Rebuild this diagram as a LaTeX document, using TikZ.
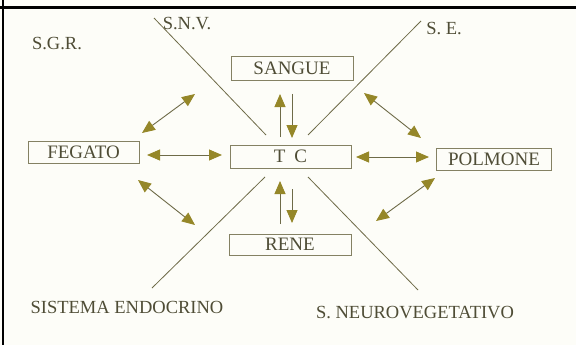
\documentclass[tikz,border=0pt]{standalone}
\usepackage{fontspec}
\setmainfont{Liberation Serif}
\usetikzlibrary{arrows.meta}
\definecolor{ink}{HTML}{4F4D36}
\definecolor{rule}{HTML}{6E6B48}
\definecolor{tip}{HTML}{958729}
\definecolor{paper}{HTML}{FDFDF8}
\tikzset{
  organ/.style={draw=rule!85, line width=0.8pt, inner sep=0pt, text=ink,
    font=\fontsize{19}{22}\selectfont},
  label/.style={text=ink, inner sep=0pt, font=\fontsize{18.5}{22}\selectfont},
  axis/.style={draw=rule, line width=0.8pt},
  link/.style={draw=rule, line width=0.9pt,
    {Triangle[length=13pt,width=11pt,color=tip]}-{Triangle[length=13pt,width=11pt,color=tip]}},
  oneway/.style={draw=rule, line width=0.9pt, -{Triangle[length=13pt,width=11pt,color=tip]}}
}
\begin{document}
\begin{tikzpicture}[x=1pt,y=-1pt]
  \fill[paper] (0,0) rectangle (576,345);
  \useasboundingbox (0,0) rectangle (576,345);
  % frame
  \draw[black, line width=2.4pt] (0,7.5) -- (576,7.5);
  \draw[black, line width=2.4pt] (3,0) -- (3,345);

  % boxes
  \node[organ, minimum width=122pt, minimum height=24pt] (sangue) at (292,68) {SANGUE};
  \node[organ, minimum width=111pt, minimum height=22pt] (fegato) at (83.5,152) {FEGATO};
  \node[organ, minimum width=115pt, minimum height=22pt] (polmone) at (494,159) {POLMONE};
  \node[organ, minimum width=121pt, minimum height=23pt] (tc) at (290.5,156.5) {T\hspace{9pt}C};
  \node[organ, minimum width=122pt, minimum height=21pt] (rene) at (290,244.5) {RENE};

  % system labels
  \node[label] (sgr) at (57,44) {S.G.R.};
  \node[label] (snv) at (187,24) {S.N.V.};
  \node[label] (se) at (444,29) {S. E.};
  \node[label] (endo) at (127,307) {SISTEMA ENDOCRINO};
  \node[label] (neuro) at (415,313) {S. NEUROVEGETATIVO};

  % diagonal axes
  \coordinate (a1) at (154,18);  \coordinate (a2) at (266,135);
  \coordinate (b1) at (421,21);  \coordinate (b2) at (308,135);
  \coordinate (c1) at (265,177); \coordinate (c2) at (152,288);
  \coordinate (d1) at (308,177); \coordinate (d2) at (418,290);
  \draw[axis] (a1) -- (a2);
  \draw[axis] (b1) -- (b2);
  \draw[axis] (c1) -- (c2);
  \draw[axis] (d1) -- (d2);

  % vertical exchanges with TC
  \coordinate (u1) at (280,137); \coordinate (u2) at (280,94);
  \coordinate (v1) at (292,94);  \coordinate (v2) at (292,138);
  \coordinate (w1) at (280,224); \coordinate (w2) at (280,181);
  \coordinate (z1) at (292,189); \coordinate (z2) at (292,223);
  \draw[oneway] (u1) -- (u2);
  \draw[oneway] (v1) -- (v2);
  \draw[oneway] (w1) -- (w2);
  \draw[oneway] (z1) -- (z2);

  % horizontal exchanges
  \coordinate (h1) at (147,155); \coordinate (h2) at (222,155);
  \coordinate (k1) at (356,157); \coordinate (k2) at (429,157);
  \draw[link] (h1) -- (h2);
  \draw[link] (k1) -- (k2);

  % diagonal exchanges
  \coordinate (p1) at (142,133); \coordinate (p2) at (195,94);
  \coordinate (q1) at (364,93);  \coordinate (q2) at (421,138);
  \coordinate (r1) at (138,180); \coordinate (r2) at (195,225);
  \coordinate (s1) at (376,221); \coordinate (s2) at (435,178);
  \draw[link] (p1) -- (p2);
  \draw[link] (q1) -- (q2);
  \draw[link] (r1) -- (r2);
  \draw[link] (s1) -- (s2);
\end{tikzpicture}
\end{document}
